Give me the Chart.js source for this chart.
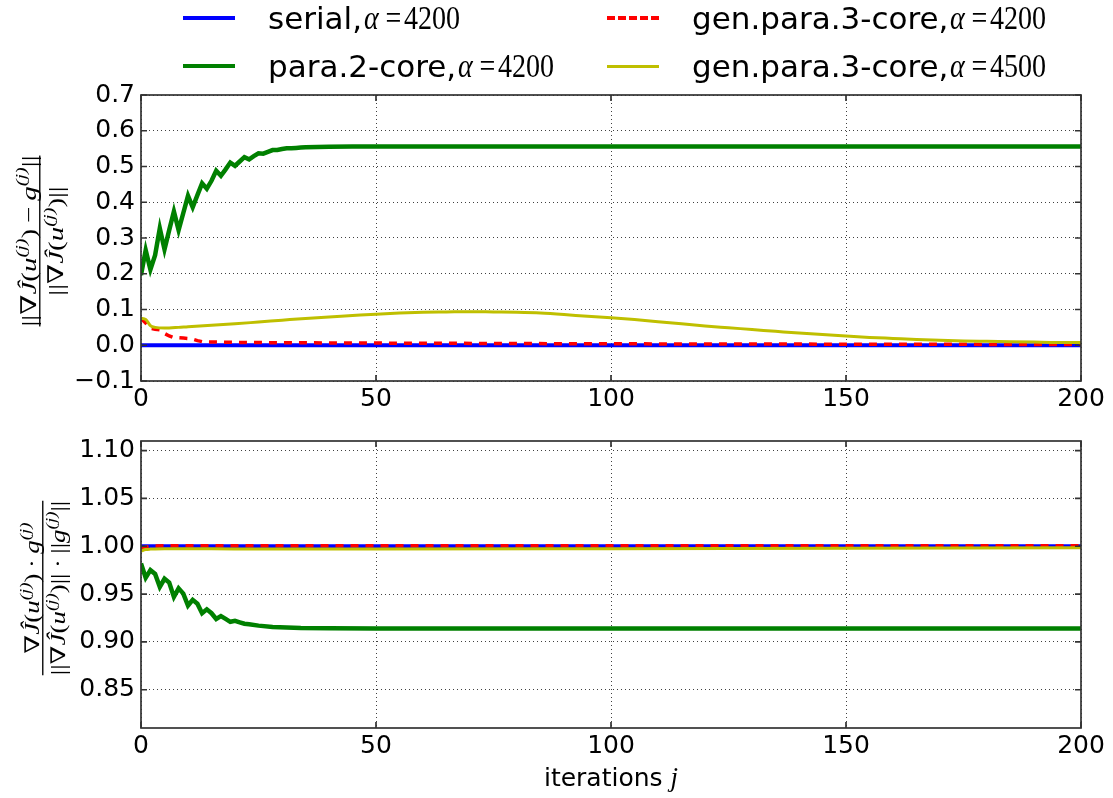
<!DOCTYPE html>
<html>
<head>
<meta charset="utf-8">
<script src="https://cdn.jsdelivr.net/npm/chart.js@4/dist/chart.umd.min.js"></script>
<style>
  body { margin: 0; background: #fff; width: 1113px; height: 798px; overflow: hidden; position: relative; font-family: "DejaVu Sans", sans-serif; }
  canvas { position: absolute; left: 0; }
  #topChart { top: 0; }
  #botChart { top: 420px; }
  .leg { position: absolute; height: 44px; display: flex; align-items: center; white-space: nowrap; font-size: 31px; color: #000; }
  .leg .swatch { width: 52px; height: 0; margin-right: 33px; }
  .leg .math { font-family: "Liberation Serif", "DejaVu Serif", serif; font-size: 33px; display: inline-block;
               transform: scaleX(0.85); transform-origin: left center; margin-left: 2px; }
  .leg .math i { margin-right: 8px; }
  .leg .math b { font-weight: normal; margin-right: 3px; }
</style>
</head>
<body>
<canvas id="topChart" width="1113" height="420"></canvas>
<canvas id="botChart" width="1113" height="378"></canvas>
<div id="legend"></div>
<script>
// series names, alpha values and colours
const seriesNames  = ['serial,', 'para.2-core,', 'gen.para.3-core,', 'gen.para.3-core,'];
const seriesAlpha  = [4200, 4200, 4200, 4500];
const seriesColors = ['#0000ff', '#008000', '#ff0000', '#bfbf00'];

// axis ticks
const xTicks    = [0, 50, 100, 150, 200];
const yTicksTop = [-0.1, 0.0, 0.1, 0.2, 0.3, 0.4, 0.5, 0.6, 0.7];
const yTicksBot = [0.85, 0.90, 0.95, 1.00, 1.05, 1.10];

// top panel: ||grad J - g|| / ||grad J||
const serialTopX = [0, 200];
const serialTopY = [0, 0];

const para2TopX = [0, 1, 2, 3, 4, 5, 6, 7, 8, 9, 10, 11, 12, 13, 14, 15, 16, 17, 18, 19, 20,
                   21, 22, 23, 24, 25, 26, 27, 28, 29, 30, 31, 32, 33, 34, 35, 40, 45, 50, 60, 80, 100, 150, 200];
const para2TopY = [0.196, 0.266, 0.212, 0.252, 0.327, 0.268, 0.322, 0.374, 0.322, 0.370, 0.418,
                   0.386, 0.420, 0.453, 0.438, 0.460, 0.488, 0.474, 0.492, 0.511, 0.502,
                   0.514, 0.526, 0.520, 0.529, 0.537, 0.536, 0.541, 0.546, 0.546, 0.549,
                   0.551, 0.551, 0.552, 0.553, 0.554, 0.555, 0.556, 0.556, 0.556, 0.556, 0.556, 0.556, 0.556];

const gen4200TopX = [0, 1, 2, 3, 4, 5, 6, 7, 8, 9, 10, 11, 12, 13, 14, 15, 20, 30, 50, 100, 150, 200];
const gen4200TopY = [0.075, 0.062, 0.047, 0.045, 0.043, 0.033, 0.026, 0.021, 0.021, 0.020, 0.019,
                     0.017, 0.013, 0.010, 0.009, 0.009, 0.008, 0.007, 0.006, 0.004, 0.003, 0.002];

const gen4500TopX = [0, 1, 2, 3, 5, 8, 10, 15, 20, 25, 30, 35, 40, 45, 50, 55, 60, 65, 70, 75, 80, 85, 90, 95,
                     100, 105, 110, 115, 120, 125, 130, 135, 140, 145, 150, 155, 160, 165, 170, 175, 180, 185, 190, 195, 200];
const gen4500TopY = [0.075, 0.072, 0.055, 0.050, 0.048, 0.050, 0.052, 0.056, 0.060, 0.065, 0.070, 0.075,
                     0.079, 0.083, 0.087, 0.090, 0.092, 0.093, 0.094, 0.093, 0.092, 0.090, 0.086, 0.081,
                     0.077, 0.072, 0.066, 0.060, 0.054, 0.049, 0.044, 0.039, 0.034, 0.030, 0.026, 0.022,
                     0.019, 0.016, 0.014, 0.012, 0.011, 0.010, 0.009, 0.008, 0.008];

// bottom panel: cosine between grad J and g
const serialBotX = [0, 200];
const serialBotY = [1.0, 1.0];

const para2BotX = [0, 1, 2, 3, 4, 5, 6, 7, 8, 9, 10, 11, 12, 13, 14, 15, 16, 17, 18, 19, 20,
                   21, 22, 23, 25, 28, 31, 34, 40, 50, 100, 200];
const para2BotY = [0.982, 0.967, 0.975, 0.971, 0.9575, 0.966, 0.962, 0.947, 0.956, 0.9505, 0.938,
                   0.944, 0.940, 0.930, 0.934, 0.930, 0.924, 0.927, 0.924, 0.921, 0.922,
                   0.9205, 0.919, 0.9185, 0.917, 0.9156, 0.915, 0.9145, 0.9142, 0.914, 0.914, 0.914];

const gen4200BotX = [0, 1, 2, 3, 5, 10, 50, 100, 150, 200];
const gen4200BotY = [0.997, 0.999, 1.0, 1.0003, 1.0004, 1.0004, 1.0005, 1.0005, 1.0005, 1.0005];

const gen4500BotX = [0, 1, 2, 3, 5, 10, 20, 50, 100, 150, 200];
const gen4500BotY = [0.995, 0.9965, 0.997, 0.9972, 0.9973, 0.9973, 0.9972, 0.9972, 0.9975, 0.998, 0.9983];

const pts = (xs, ys) => xs.map((x, i) => ({ x: x, y: ys[i] }));

function makeSets(list) {
  return list.map((d, i) => ({
    label: seriesNames[i] + ' α=' + seriesAlpha[i],
    data: pts(d[0], d[1]),
    borderColor: seriesColors[i],
    backgroundColor: seriesColors[i],
    borderWidth: [4, 4.5, 3.5, 3][i],
    borderDash: i === 2 ? [8, 7] : [],
    pointRadius: 0,
    tension: 0,
    // only the slow yellow curve is sampled sparsely, smooth it
    cubicInterpolationMode: i === 3 ? 'monotone' : 'default',
    order: 4 - i,   // later series painted on top
  }));
}

// ---- math-ish text helpers ----
const SERIF = '"Liberation Serif", "DejaVu Serif", serif';
const N = t => ({ t: t });
const I = t => ({ t: t, it: true });
const S = t => ({ t: t, it: true, sup: true });

function segFont(s, size) {
  const sz = s.sup ? size * 0.7 : size;
  return (s.it ? 'italic ' : '') + sz + 'px ' + SERIF;
}
function mathWidth(ctx, segs, size) {
  let w = 0;
  segs.forEach(s => { ctx.font = segFont(s, size); w += ctx.measureText(s.t).width; });
  return w;
}
function drawMath(ctx, segs, x, y, size) {
  let cx = x - mathWidth(ctx, segs, size) / 2;
  segs.forEach(s => {
    ctx.font = segFont(s, size);
    ctx.fillText(s.t, cx, s.sup ? y - size * 0.42 : y);
    cx += ctx.measureText(s.t).width;
  });
}
// rotated fraction used as y-axis title, glyphs squeezed across the line
function drawFrac(ctx, cx, cy, num, den, size) {
  ctx.save();
  ctx.translate(cx, cy);
  ctx.rotate(-Math.PI / 2);
  ctx.scale(1, 0.75);
  ctx.fillStyle = '#000';
  ctx.textBaseline = 'alphabetic';
  ctx.textAlign = 'left';
  drawMath(ctx, num, 0, -6, size);
  drawMath(ctx, den, 0, size + 2, size);
  const w = Math.max(mathWidth(ctx, num, size), mathWidth(ctx, den, size));
  ctx.fillRect(-w / 2, -1.2, w, 1.8);
  ctx.restore();
}

// frame, inward tick marks and axis titles
const framePlugin = {
  id: 'frame',
  afterDatasetsDraw(chart, args, opts) {
    const a = chart.chartArea, ctx = chart.ctx;
    ctx.save();
    ctx.strokeStyle = '#333';
    ctx.lineWidth = 1.7;
    ctx.setLineDash([]);
    ctx.beginPath();
    chart.scales.x.ticks.forEach(t => {
      const px = chart.scales.x.getPixelForValue(t.value);
      ctx.moveTo(px, a.bottom); ctx.lineTo(px, a.bottom - 6);
      ctx.moveTo(px, a.top); ctx.lineTo(px, a.top + 6);
    });
    chart.scales.y.ticks.forEach(t => {
      const py = chart.scales.y.getPixelForValue(t.value);
      ctx.moveTo(a.left, py); ctx.lineTo(a.left + 6, py);
      ctx.moveTo(a.right, py); ctx.lineTo(a.right - 6, py);
    });
    ctx.stroke();
    ctx.strokeRect(a.left, a.top, a.right - a.left, a.bottom - a.top);
    ctx.restore();

    if (opts.num) drawFrac(ctx, opts.fx, opts.fy, opts.num, opts.den, opts.size);
    if (opts.xTitle) {
      ctx.save();
      ctx.fillStyle = '#000';
      ctx.textBaseline = 'alphabetic';
      ctx.font = '25px "DejaVu Sans"';
      const w1 = ctx.measureText(opts.xTitle).width;
      ctx.font = 'italic 27px ' + SERIF;
      const w2 = ctx.measureText('j').width;
      const x0 = (a.left + a.right) / 2 - (w1 + w2) / 2;
      ctx.font = '25px "DejaVu Sans"';
      ctx.fillText(opts.xTitle, x0, opts.xy);
      ctx.font = 'italic 27px ' + SERIF;
      ctx.fillText('j', x0 + w1, opts.xy);
      ctx.restore();
    }
  }
};

function axes(yTicks, yMin, yMax, fmt, xHeight) {
  const gridCfg = { color: 'rgba(0,0,0,0.75)', lineWidth: 1, drawTicks: false };
  const borderCfg = { display: false, dash: [1, 3] };
  const tickFont = { family: '"DejaVu Sans"', size: 25 };
  return {
    x: {
      type: 'linear', min: 0, max: 200,
      afterBuildTicks: s => { s.ticks = xTicks.map(v => ({ value: v })); },
      afterFit: s => { s.height = xHeight; },
      grid: gridCfg, border: borderCfg,
      ticks: { color: '#000', font: tickFont, padding: 3, maxRotation: 0 }
    },
    y: {
      min: yMin, max: yMax,
      afterBuildTicks: s => { s.ticks = yTicks.map(v => ({ value: v })); },
      afterFit: s => { s.width = 141; },
      grid: gridCfg, border: borderCfg,
      ticks: { color: '#000', font: tickFont, padding: 6, callback: fmt }
    }
  };
}

const baseOpts = {
  responsive: false,
  animation: false,
  events: [],
  plugins: { legend: { display: false }, tooltip: { enabled: false } }
};

new Chart(document.getElementById('topChart'), {
  type: 'line',
  data: { datasets: makeSets([[serialTopX, serialTopY], [para2TopX, para2TopY],
                              [gen4200TopX, gen4200TopY], [gen4500TopX, gen4500TopY]]) },
  options: Object.assign({}, baseOpts, {
    layout: { padding: { top: 95, right: 32, left: 0, bottom: 0 } },
    scales: axes(yTicksTop, -0.1, 0.7, v => v.toFixed(1).replace('-', '\u2212'), 39),
    plugins: Object.assign({}, baseOpts.plugins, {
      frame: {
        fx: 40, fy: 241, size: 29,
        num: [N('||∇'), I('Ĵ'), N('('), I('u'), S('(j)'), N(')\u2009\u2212\u2009'), I('g'), S('(j)'), N('||')],
        den: [N('||∇'), I('Ĵ'), N('('), I('u'), S('(j)'), N(')||')]
      }
    })
  }),
  plugins: [framePlugin]
});

new Chart(document.getElementById('botChart'), {
  type: 'line',
  data: { datasets: makeSets([[serialBotX, serialBotY], [para2BotX, para2BotY],
                              [gen4200BotX, gen4200BotY], [gen4500BotX, gen4500BotY]]) },
  options: Object.assign({}, baseOpts, {
    layout: { padding: { top: 21, right: 32, left: 0, bottom: 0 } },
    scales: axes(yTicksBot, 0.81, 1.11, v => v.toFixed(2), 70),
    plugins: Object.assign({}, baseOpts.plugins, {
      frame: {
        fx: 43, fy: 168, size: 27,
        num: [N('∇'), I('Ĵ'), N('('), I('u'), S('(j)'), N(')\u2009·\u2009'), I('g'), S('(j)')],
        den: [N('||∇'), I('Ĵ'), N('('), I('u'), S('(j)'), N(')||\u2009·\u2009||'), I('g'), S('(j)'), N('||')],
        xTitle: 'iterations ', xy: 366
      }
    })
  }),
  plugins: [framePlugin]
});

// legend, two columns
const legend = document.getElementById('legend');
seriesNames.forEach((name, i) => {
  const col = Math.floor(i / 2), row = i % 2;
  const el = document.createElement('div');
  el.className = 'leg';
  el.style.left = (col ? 607 : 183) + 'px';
  el.style.top = (row ? 44 : -4) + 'px';
  const sw = document.createElement('div');
  sw.className = 'swatch';
  const lw = [4, 4.5, 4, 3][i];
  sw.style.borderTop = i === 2 ? lw + 'px dashed ' + seriesColors[i] : lw + 'px solid ' + seriesColors[i];
  el.appendChild(sw);
  const txt = document.createElement('span');
  txt.textContent = name;
  el.appendChild(txt);
  const m = document.createElement('span');
  m.className = 'math';
  m.innerHTML = '<i>α</i><b>=</b>' + seriesAlpha[i];
  el.appendChild(m);
  legend.appendChild(el);
});
</script>
</body>
</html>
